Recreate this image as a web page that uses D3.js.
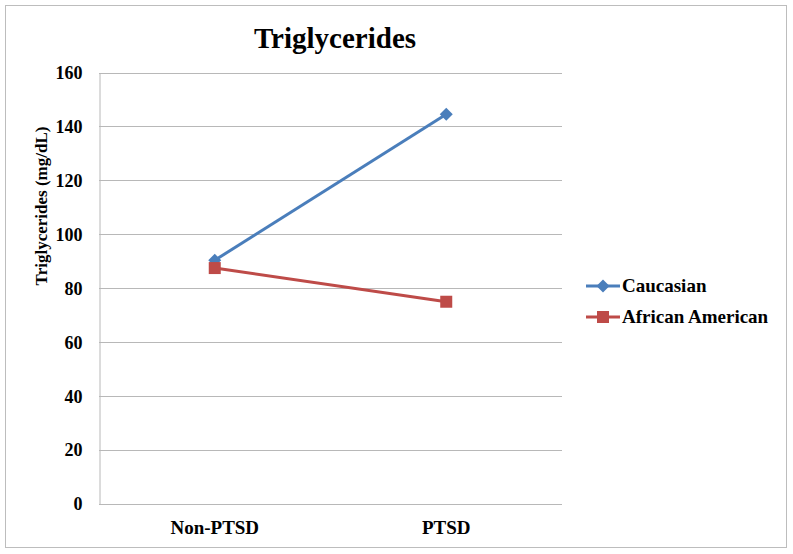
<!DOCTYPE html>
<html><head><meta charset="utf-8">
<script src="https://cdn.jsdelivr.net/npm/d3@7"></script>
<style>body{margin:0;background:#fff}svg{display:block}</style>
</head><body>
<script>
const categories = ["Non-PTSD", "PTSD"];
const caucasian = [90.3, 144.5];
const africanAmerican = [87.4, 74.9];
const yTicks = [0, 20, 40, 60, 80, 100, 120, 140, 160];
const seriesNames = ["Caucasian", "African American"];
const colors = ["#4A7EBB", "#BE4B48"];

const FONT = "'Liberation Serif', 'Times New Roman', serif";
const W = 793, H = 554;
const svg = d3.select("body").append("svg").attr("width", W).attr("height", H)
  .attr("font-family", FONT).attr("font-weight", "bold");
svg.append("rect").attr("x", 5.5).attr("y", 5.5).attr("width", 781).attr("height", 542)
  .attr("fill", "#fff").attr("stroke", "#bdbdbd").attr("stroke-width", 1);

const L = 99, R = 562, T = 72.5, B = 503.5;
const x = d3.scaleBand().domain(categories).range([L, R]);
const y = d3.scaleLinear().domain([0, 160]).range([B, T]);

// gridlines
svg.append("g").selectAll("line").data(yTicks).join("line")
  .attr("x1", L).attr("x2", R).attr("y1", d => Math.round(y(d)) + 0.5).attr("y2", d => Math.round(y(d)) + 0.5)
  .attr("stroke", "#b8b8b8").attr("stroke-width", 1);

// y axis
const ya = svg.append("g").attr("transform", `translate(${L + 0.5},0)`)
  .call(d3.axisLeft(y).tickValues(yTicks).tickSize(0).tickPadding(17));
ya.attr("font-family", FONT).attr("font-size", 18).attr("font-weight", "bold");
ya.select(".domain").attr("stroke", "#b8b8b8");
ya.selectAll("text").attr("fill", "#000").attr("dy", "0.35em");

// x axis
const xa = svg.append("g").attr("transform", `translate(0,${B})`)
  .call(d3.axisBottom(x).tickSize(0).tickPadding(17));
xa.attr("font-family", FONT).attr("font-size", 19).attr("font-weight", "bold");
xa.select(".domain").remove();
xa.selectAll("text").attr("fill", "#000");

// title
svg.append("text").attr("x", 335).attr("y", 48).attr("text-anchor", "middle")
  .attr("font-size", 29).attr("fill", "#000").text("Triglycerides");
// y title
svg.append("text").attr("transform", "translate(47,206) rotate(-90)").attr("text-anchor", "middle")
  .attr("font-size", 17).attr("fill", "#000").text("Triglycerides (mg/dL)");

const cx = d => x(d) + x.bandwidth() / 2;
const series = [caucasian, africanAmerican];
const line = d3.line().x((d, i) => cx(categories[i])).y(d => y(d));

series.forEach((s, k) => {
  svg.append("path").datum(s).attr("d", line).attr("fill", "none")
    .attr("stroke", colors[k]).attr("stroke-width", 3);
});
// markers
const dia = "M0,-6.5L6.5,0L0,6.5L-6.5,0Z";
svg.append("g").selectAll("path").data(caucasian).join("path")
  .attr("d", dia).attr("transform", (d, i) => `translate(${cx(categories[i])},${y(d)})`)
  .attr("fill", colors[0]);
svg.append("g").selectAll("rect").data(africanAmerican).join("rect")
  .attr("x", (d, i) => cx(categories[i]) - 6).attr("y", d => y(d) - 6)
  .attr("width", 12).attr("height", 12).attr("fill", colors[1]);

// legend
const lg = svg.append("g");
seriesNames.forEach((n, k) => {
  const ly = 286 + k * 31;
  lg.append("line").attr("x1", 586).attr("x2", 620).attr("y1", ly).attr("y2", ly)
    .attr("stroke", colors[k]).attr("stroke-width", 3);
  if (k === 0) {
    lg.append("path").attr("d", dia).attr("transform", `translate(603,${ly})`).attr("fill", colors[k]);
  } else {
    lg.append("rect").attr("x", 597).attr("y", ly - 6).attr("width", 12).attr("height", 12).attr("fill", colors[k]);
  }
  lg.append("text").attr("x", 622).attr("y", ly + 6).attr("font-size", 19).attr("fill", "#000").text(n);
});
</script>
</body></html>
